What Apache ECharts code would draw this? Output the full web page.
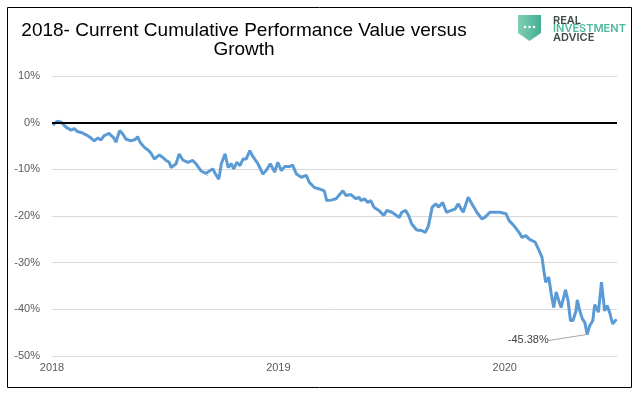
<html>
<head>
<meta charset="utf-8">
<script src="https://cdn.jsdelivr.net/npm/echarts@6/dist/echarts.min.js"></script>
<style>
  html, body { margin: 0; padding: 0; background: #fff; }
  #chart { width: 643px; height: 397px; }
</style>
</head>
<body>
<div id="chart"></div>
<script>
// trading dates
var dates = [
  '2018-01-02','2018-01-05','2018-01-10','2018-01-16','2018-01-24','2018-02-01','2018-02-06','2018-02-11','2018-02-17','2018-02-25',
  '2018-03-05','2018-03-10','2018-03-16','2018-03-21','2018-03-26','2018-04-03','2018-04-11','2018-04-14','2018-04-20','2018-04-25',
  '2018-04-30','2018-05-08','2018-05-15','2018-05-19','2018-05-23','2018-05-30','2018-06-04','2018-06-09','2018-06-15','2018-06-23',
  '2018-06-28','2018-07-04','2018-07-09','2018-07-12','2018-07-20','2018-07-25','2018-07-31','2018-08-08','2018-08-16','2018-08-21',
  '2018-08-29','2018-09-06','2018-09-09','2018-09-17','2018-09-23','2018-09-27','2018-10-01','2018-10-07','2018-10-12','2018-10-17',
  '2018-10-21','2018-10-26','2018-10-31','2018-11-05','2018-11-10','2018-11-16','2018-11-21','2018-11-29','2018-12-07','2018-12-12',
  '2018-12-19','2018-12-26','2018-12-31',
  '2019-01-06','2019-01-11','2019-01-19','2019-01-24','2019-01-30','2019-02-07','2019-02-15','2019-02-20','2019-02-28','2019-03-08',
  '2019-03-16','2019-03-20','2019-03-27','2019-04-04','2019-04-15','2019-04-20','2019-04-28','2019-05-06','2019-05-11','2019-05-14',
  '2019-05-20','2019-05-25','2019-05-30','2019-06-04','2019-06-12','2019-06-20','2019-06-25','2019-07-03','2019-07-15','2019-07-19',
  '2019-07-25','2019-07-30','2019-08-04','2019-08-12','2019-08-20','2019-08-26','2019-08-31','2019-09-06','2019-09-12','2019-09-16',
  '2019-09-23','2019-09-29','2019-10-07','2019-10-13','2019-10-18','2019-10-26','2019-11-03','2019-11-09','2019-11-17','2019-11-25',
  '2019-11-30','2019-12-08','2019-12-16','2019-12-24',
  '2020-01-03','2020-01-08','2020-01-16','2020-01-24','2020-01-29','2020-02-04','2020-02-09','2020-02-14','2020-02-19','2020-02-24',
  '2020-03-01','2020-03-04','2020-03-07','2020-03-12','2020-03-16','2020-03-20','2020-03-24','2020-03-28','2020-04-01','2020-04-08',
  '2020-04-12','2020-04-16','2020-04-20','2020-04-25','2020-04-27','2020-05-01','2020-05-05','2020-05-09','2020-05-13','2020-05-17',
  '2020-05-22','2020-05-25','2020-05-31','2020-06-05','2020-06-10','2020-06-14','2020-06-18','2020-06-23','2020-06-29'
];

// cumulative performance, value vs growth (%)
var performance = [
  -0.4, -0.6, 0.3, 0.1, -1.0, -1.6, -1.3, -1.9, -2.1, -2.6,
  -3.3, -3.9, -3.3, -3.7, -2.8, -2.3, -3.3, -4.2, -1.7, -2.4,
  -3.5, -3.9, -3.6, -3.0, -4.2, -5.3, -5.8, -6.4, -7.8, -6.9,
  -7.4, -8.1, -8.5, -9.6, -8.8, -6.7, -8.0, -8.5, -8.1, -8.8,
  -10.3, -10.9, -11.3, -9.9, -11.3, -12.1, -8.8, -6.7, -9.6, -8.8,
  -9.9, -8.5, -9.2, -7.8, -7.8, -6.0, -7.3, -8.8, -11.0, -10.3,
  -8.8, -10.6, -8.5,
  -10.3, -9.4, -9.4, -9.1, -11.0, -11.7, -11.3, -12.8, -13.9, -14.2,
  -14.6, -16.7, -16.6, -16.3, -14.6, -15.6, -15.4, -16.3, -16.0, -16.7,
  -16.3, -17.1, -16.7, -18.1, -18.8, -19.9, -18.8, -19.2, -20.3, -19.2,
  -18.8, -19.9, -21.7, -23.0, -23.1, -23.5, -22.1, -18.1, -17.4, -18.1,
  -17.1, -19.2, -18.8, -18.5, -17.4, -19.2, -16.0, -17.4, -19.2, -20.6,
  -20.3, -19.2, -19.2, -19.2,
  -19.5, -21.0, -22.1, -23.5, -24.6, -24.2, -24.9, -25.3, -25.6, -27.0,
  -28.8, -31.7, -34.2, -33.1, -36.7, -39.6, -36.3, -38.1, -39.6, -35.8,
  -38.1, -42.4, -42.4, -40.3, -38.0, -40.3, -42.0, -42.8, -45.38, -43.5,
  -42.4, -39.0, -40.6, -34.2, -40.3, -39.2, -40.6, -43.1, -42.2
];

var yTicks = { min: -50, max: 10, step: 10 };
var xRange = { min: '2018-01-01', max: '2020-06-30' };

var minIndex = 0;
performance.forEach(function (v, i) { if (v < performance[minIndex]) minIndex = i; });

var seriesData = dates.map(function (d, i) {
  var item = { value: [d, performance[i]] };
  if (i === minIndex) {
    item.label = {
      show: true,
      position: 'left',
      distance: 4,
      formatter: function (p) { return p.value[1].toFixed(2) + '%'; },
      color: '#404040',
      fontSize: 11,
      fontFamily: 'Liberation Sans'
    };
    item.labelLine = { show: true, lineStyle: { color: '#a6a6a6', width: 1 } };
  }
  return item;
});

var myChart = echarts.init(document.getElementById('chart'));

var option = {
  backgroundColor: '#fff',
  animation: false,
  title: {
    text: '2018- Current Cumulative Performance Value versus\nGrowth',
    left: 239,
    top: 16,
    textAlign: 'center',
    textStyle: {
      fontFamily: 'Liberation Sans',
      fontWeight: 'normal',
      fontSize: 19,
      lineHeight: 19,
      color: '#000'
    }
  },
  grid: {
    left: 52,
    right: 26,
    top: 76,
    bottom: 41
  },
  xAxis: {
    type: 'time',
    min: xRange.min,
    max: xRange.max,
    axisLine: { show: false },
    axisTick: { show: false },
    splitLine: { show: false },
    axisLabel: {
      margin: 6,
      fontSize: 11,
      fontFamily: 'Liberation Sans',
      color: '#595959',
      formatter: function (value) {
        var d = new Date(value);
        return (d.getMonth() === 0 && d.getDate() === 1) ? String(d.getFullYear()) : '';
      }
    }
  },
  yAxis: {
    type: 'value',
    min: yTicks.min,
    max: yTicks.max,
    interval: yTicks.step,
    axisLine: { show: false },
    axisTick: { show: false },
    axisLabel: {
      margin: 12,
      fontSize: 11,
      fontFamily: 'Liberation Sans',
      color: '#595959',
      formatter: '{value}%'
    },
    splitLine: { lineStyle: { color: '#d9d9d9', width: 1 } }
  },
  series: [{
    type: 'line',
    data: seriesData,
    showSymbol: true,
    symbol: 'circle',
    symbolSize: 1,
    itemStyle: { color: '#5b9bd5' },
    lineStyle: { color: '#5b9bd5', width: 3 },
    labelLayout: function (p) {
      return p.dataIndex === minIndex ? { dx: -34, dy: 6 } : {};
    },
    markLine: {
      silent: true,
      symbol: 'none',
      label: { show: false },
      lineStyle: { color: '#000', width: 2, type: 'solid' },
      data: [{ yAxis: 0 }]
    }
  }],
  graphic: [
    {
      type: 'rect',
      shape: { x: 7.5, y: 7.5, width: 624, height: 380 },
      style: { fill: 'none', stroke: '#000', lineWidth: 1 },
      silent: true
    },
    // logo shield
    {
      type: 'polygon',
      shape: { points: [[518, 15], [541, 15], [541, 33], [529.5, 41], [518, 33]] },
      style: {
        fill: new echarts.graphic.LinearGradient(0, 0, 1, 0, [
          { offset: 0, color: '#7fcfb5' },
          { offset: 1, color: '#45ad93' }
        ])
      }
    },
    { type: 'circle', shape: { cx: 525, cy: 27, r: 1.3 }, style: { fill: '#fff' } },
    { type: 'circle', shape: { cx: 529.5, cy: 27, r: 1.3 }, style: { fill: '#fff' } },
    { type: 'circle', shape: { cx: 534, cy: 27, r: 1.3 }, style: { fill: '#fff' } },
    {
      type: 'text', left: 553, top: 15,
      style: { text: 'REAL', fill: '#3f4a4a', font: '600 11px Inter' }
    },
    {
      type: 'text', left: 553, top: 23.5,
      style: { text: 'INVESTMENT', fill: '#4db89c', font: '600 11px Inter' }
    },
    {
      type: 'text', left: 553, top: 32,
      style: { text: 'ADVICE', fill: '#3f4a4a', font: '600 11px Inter' }
    }
  ]
};

myChart.setOption(option);
</script>
</body>
</html>
